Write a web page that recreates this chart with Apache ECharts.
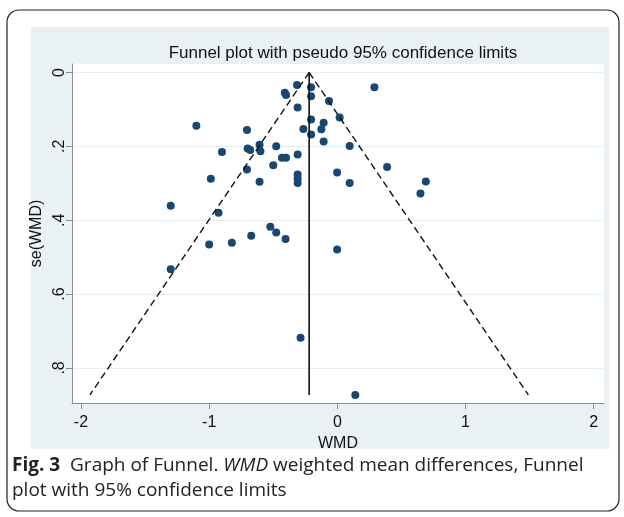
<!DOCTYPE html>
<html>
<head>
<meta charset="utf-8">
<script src="https://cdn.jsdelivr.net/npm/echarts@6/dist/echarts.min.js"></script>
<style>html,body{margin:0;padding:0;background:#fff}#c{width:624px;height:517px}</style>
</head>
<body>
<div id="c"></div>
<script>
// Study estimates: [WMD, se(WMD)]
const studies = [
  [-0.315, 0.034], [-0.41, 0.055], [-0.40, 0.061], [-0.31, 0.095], [-1.10, 0.144],
  [-0.705, 0.156], [-0.265, 0.153], [-0.205, 0.040], [-0.205, 0.064], [-0.205, 0.127],
  [-0.205, 0.168], [0.289, 0.040], [-0.065, 0.077], [0.018, 0.122], [-0.107, 0.136],
  [-0.125, 0.154], [-0.107, 0.187], [0.096, 0.199], [-0.90, 0.215], [-0.70, 0.206],
  [-0.68, 0.210], [-0.607, 0.196], [-0.60, 0.213], [-0.477, 0.200], [-0.432, 0.231],
  [-0.40, 0.231], [-0.31, 0.222], [-0.705, 0.263], [-0.50, 0.251], [-0.987, 0.288],
  [-0.607, 0.296], [-0.31, 0.276], [-0.31, 0.288], [-0.31, 0.299], [0.388, 0.256],
  [-0.002, 0.271], [0.096, 0.299], [0.69, 0.295], [0.648, 0.328], [-1.30, 0.361],
  [-0.927, 0.380], [-0.523, 0.418], [-0.477, 0.433], [-0.404, 0.451], [-0.672, 0.442],
  [-0.823, 0.461], [-1.00, 0.466], [-1.30, 0.533], [-0.002, 0.479], [-0.287, 0.718],
  [0.14, 0.873]
];
// Pooled estimate line and pseudo 95% limits (endpoints)
const pooledLine = [[-0.22, 0], [-0.22, 0.873]];
const lowerLimit = [[-0.22, 0], [-1.93, 0.873]];
const upperLimit = [[-0.22, 0], [1.49, 0.873]];
const xTicks = [-2, -1, 0, 1, 2];
const yTicks = [0, 0.2, 0.4, 0.6, 0.8];

const chart = echarts.init(document.getElementById('c'), null, {renderer: 'canvas'});
const font = '"Liberation Sans", Arial, sans-serif';
const capFont = '"Open Sans", sans-serif';
chart.setOption({
  backgroundColor: '#ffffff',
  animation: false,
  title: {
    text: 'Funnel plot with pseudo 95% confidence limits',
    left: 338, top: 40, textAlign: 'center',
    textStyle: {fontFamily: font, fontSize: 17, fontWeight: 'normal', color: '#111'}
  },
  graphic: [
    {type: 'rect', z: -10, shape: {x: 7, y: 10, width: 612, height: 501, r: 12},
     style: {fill: '#ffffff', stroke: '#222', lineWidth: 1.2}},
    {type: 'rect', z: -9, shape: {x: 31, y: 27, width: 578, height: 422},
     style: {fill: '#eaf1f4'}},
    {type: 'text', left: 12, top: 456, z: 10,
     style: {
       text: '{b|Fig. 3}{n|  Graph of Funnel. }{i|WMD}{n| weighted mean differences, Funnel}\n{n|plot with 95% confidence limits}',
       rich: {
         b: {fontFamily: capFont, fontSize: 19, fontWeight: 'bold', fill: '#222', lineHeight: 25},
         n: {fontFamily: capFont, fontSize: 19, fill: '#222', lineHeight: 25},
         i: {fontFamily: capFont, fontSize: 19, fontStyle: 'italic', fill: '#222', lineHeight: 25}
       }
     }}
  ],
  grid: {left: 72, right: 20, top: 64, bottom: 114, show: true, backgroundColor: '#ffffff', borderWidth: 0},
  xAxis: {
    type: 'value', min: -2.07, max: 2.08,
    name: 'WMD', nameLocation: 'middle', nameGap: 25,
    nameTextStyle: {fontFamily: font, fontSize: 16, color: '#111'},
    axisLine: {show: true, onZero: false, lineStyle: {color: '#8c8c8c', width: 1}},
    axisTick: {show: true, inside: false, length: 6, customValues: xTicks, lineStyle: {color: '#8c8c8c'}},
    axisLabel: {customValues: xTicks, margin: 12, fontFamily: font, fontSize: 16, color: '#111',
      formatter: v => String(v)},
    splitLine: {show: false}
  },
  yAxis: {
    type: 'value', inverse: true, min: -0.023, max: 0.895,
    name: 'se(WMD)', nameLocation: 'middle', nameGap: 23, nameRotate: 90,
    nameTextStyle: {fontFamily: font, fontSize: 16, color: '#111'},
    axisLine: {show: true, onZero: false, lineStyle: {color: '#8c8c8c', width: 1}},
    axisTick: {show: true, inside: false, length: 6, customValues: yTicks, lineStyle: {color: '#8c8c8c'}},
    axisLabel: {customValues: yTicks, rotate: 90, margin: 4, fontFamily: font, fontSize: 16, color: '#111',
      formatter: v => v === 0 ? '0' : String(v).replace(/^0/, '')},
    splitLine: {show: true, lineStyle: {color: '#e4edf0', width: 1.2}}
  },
  series: [
    {type: 'line', data: lowerLimit, symbol: 'none', silent: true,
     lineStyle: {color: '#111', width: 1.4, type: [7, 4]}},
    {type: 'line', data: upperLimit, symbol: 'none', silent: true,
     lineStyle: {color: '#111', width: 1.4, type: [7, 4]}},
    {type: 'line', data: pooledLine, symbol: 'none', silent: true,
     lineStyle: {color: '#111', width: 1.6}},
    {type: 'scatter', data: studies, symbol: 'circle', symbolSize: 8,
     itemStyle: {color: '#1a476f', opacity: 1}}
  ]
});
</script>
</body>
</html>
